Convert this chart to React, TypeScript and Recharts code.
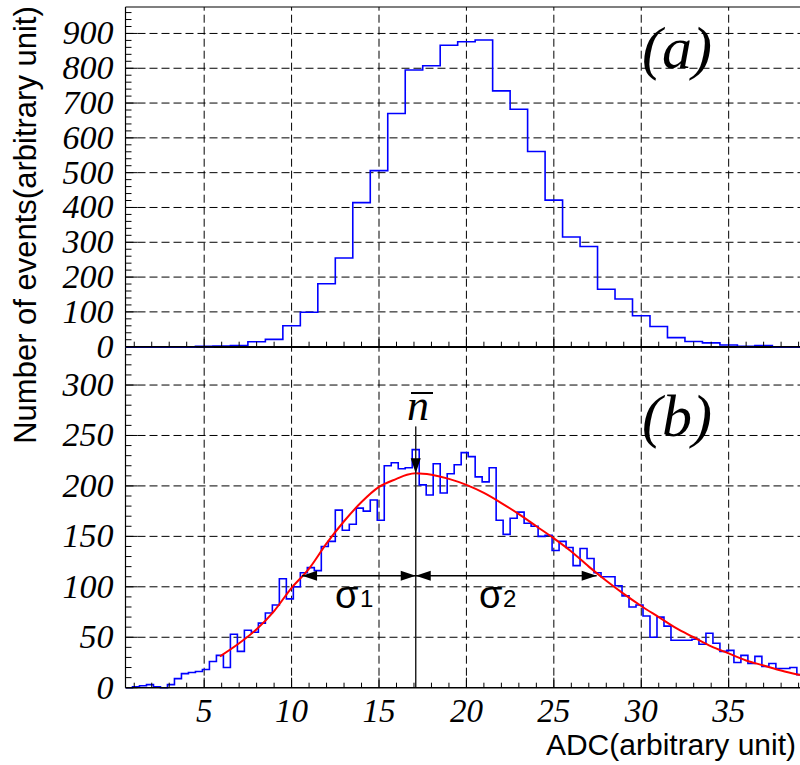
import { ComposedChart, Line, XAxis, YAxis, ReferenceLine } from 'recharts';

const X_MIN = 0.5;
const X_MAX = 39.08;

// panel (a): 1-unit bins, first bin starts at 0.5
const TOP_LOW_EDGE = 0.5;
const TOP_BIN_WIDTH = 1;
const topCounts = [
  0, 0, 0, 0, 1, 2, 3, 14, 21, 60, 99, 181, 255, 414, 506, 670, 795, 807, 866, 876, 881, 735, 682,
  561, 421, 315, 288, 165, 137, 89, 58, 26, 15, 11, 5, 1, 3, 0, 0,
];

// panel (b): 0.4-unit bins, first bin starts at 0.5
const BOTTOM_LOW_EDGE = 0.5;
const BOTTOM_BIN_WIDTH = 0.4;
const bottomCounts = [
  0, 1, 2, 3, 1, 0, 3, 9, 14, 15, 16, 18, 26, 32, 20, 53, 36, 57, 55, 64, 74, 82, 108, 88, 100, 114,
  119, 116, 140, 145, 176, 156, 162, 178, 175, 186, 166, 220, 223, 217, 218, 236, 201, 191, 222, 193,
  212, 221, 233, 229, 209, 204, 218, 166, 152, 168, 174, 163, 160, 150, 151, 136, 145, 139, 121, 138,
  128, 114, 110, 110, 101, 91, 80, 82, 71, 50, 70, 61, 47, 47, 47, 48, 43, 54, 44, 36, 37, 25, 32, 24,
  31, 21, 24, 19, 19, 20, 13,
];

// fitted curve
const fitX = [5.9, 7, 8, 9, 10, 11, 12, 13, 14, 15, 16, 16.6, 17.1, 18, 19, 20, 21, 22, 23, 24, 25, 26, 27, 28, 29, 30, 31, 32, 33, 34, 35, 36, 37, 38, 39.08];
const fitY = [31, 44, 58, 76, 99, 118, 143, 165, 184, 199, 207, 211, 212.5, 211, 207, 201, 193, 183, 172, 160, 148, 135, 120, 106, 93, 81, 70, 59, 50, 41, 34, 27, 22, 17, 12.5];

const MEAN = 17.1;
const MEAN_ARROW_TOP = 259;
const PEAK = 212.5;
const SIGMA_LEFT = 10.6;
const SIGMA_RIGHT = 27.45;
const SIGMA_LEVEL = 111;

const xTicks = Array.from({ length: 39 }, (_, i) => i + 1);
const xGrid = [5, 10, 15, 20, 25, 30, 35];
const topYTicks = Array.from({ length: 49 }, (_, i) => i * 20);
const topYGrid = [100, 200, 300, 400, 500, 600, 700, 800, 900];
const bottomYTicks = Array.from({ length: 34 }, (_, i) => i * 10);
const bottomYGrid = [50, 100, 150, 200, 250, 300];

const TOP_Y_MAX = 976;
const BOTTOM_Y_MAX = 337.4;

const SERIF = '"Liberation Serif", "Times New Roman", serif';
const SANS = '"Liberation Sans", Arial, sans-serif';
const GRID = { stroke: '#000', strokeDasharray: '8 4', strokeWidth: 1 };

function stepData(low: number, width: number, counts: number[]) {
  const pts = counts.map((c, i) => ({ x: low + i * width, y: c }));
  pts.push({ x: low + counts.length * width, y: counts[counts.length - 1] });
  return pts;
}

const topData = stepData(TOP_LOW_EDGE, TOP_BIN_WIDTH, topCounts);
const bottomData = stepData(BOTTOM_LOW_EDGE, BOTTOM_BIN_WIDTH, bottomCounts);
const fitData = fitX.map((x, i) => ({ x, y: fitY[i] }));

function XTick(props: any) {
  const { x, y, payload, showLabel } = props;
  const v = payload.value;
  const major = v % 5 === 0;
  return (
    <g>
      <line x1={x} x2={x} y1={y} y2={y - (major ? 10 : 5)} stroke="#000" strokeWidth={1} />
      {showLabel && major && (
        <text x={x} y={y + 34} textAnchor="middle" fontFamily={SERIF} fontStyle="italic" fontSize={33}>
          {v}
        </text>
      )}
    </g>
  );
}

function YTick(props: any) {
  const { x, y, payload, step } = props;
  const v = payload.value;
  const major = v % step === 0;
  return (
    <g>
      <line x1={x} x2={x + (major ? 12 : 6)} y1={y} y2={y} stroke="#000" strokeWidth={1} />
      {major && (
        <text x={x - 12} y={y + 11} textAnchor="end" fontFamily={SERIF} fontStyle="italic" fontSize={34}>
          {v}
        </text>
      )}
    </g>
  );
}

function Head({ tipX, tipY, dx, dy }: { tipX: number; tipY: number; dx: number; dy: number }) {
  // dx,dy: unit vector pointing from base to tip
  const len = 15;
  const half = 5;
  const bx = tipX - dx * len;
  const by = tipY - dy * len;
  const px = -dy * half;
  const py = dx * half;
  return <polygon points={`${tipX},${tipY} ${bx + px},${by + py} ${bx - px},${by - py}`} fill="#000" />;
}

function DoubleArrow(props: any) {
  const { x1, y1, x2, y2 } = props;
  return (
    <g>
      <line x1={x1} y1={y1} x2={x2} y2={y2} stroke="#000" strokeWidth={1.5} />
      <Head tipX={x1} tipY={y1} dx={-1} dy={0} />
      <Head tipX={x2} tipY={y2} dx={1} dy={0} />
    </g>
  );
}

function DownArrow(props: any) {
  const { x1, y1, x2, y2 } = props;
  return (
    <g>
      <line x1={x1} y1={y1} x2={x2} y2={y2} stroke="#222" strokeWidth={1.5} />
      <Head tipX={x2} tipY={y2} dx={0} dy={1} />
    </g>
  );
}

function TopPanel() {
  return (
    <ComposedChart width={800} height={376.7} margin={{ top: 7, right: 0, bottom: 0, left: 0.5 }}>
      <XAxis
        type="number"
        dataKey="x"
        domain={[X_MIN, X_MAX]}
        allowDataOverflow
        ticks={xTicks}
        interval={0}
        height={30}
        tickSize={0}
        tickMargin={0}
        tickLine={false}
        axisLine={{ stroke: '#000', strokeWidth: 1.2 }}
        tick={(p: any) => <XTick {...p} showLabel={false} />}
      />
      <YAxis
        type="number"
        dataKey="y"
        domain={[0, TOP_Y_MAX]}
        ticks={topYTicks}
        interval={0}
        width={125}
        tickSize={0}
        tickMargin={0}
        tickLine={false}
        axisLine={{ stroke: '#000', strokeWidth: 1.2 }}
        tick={(p: any) => <YTick {...p} step={100} />}
      />
      {xGrid.map((v) => (
        <ReferenceLine key={`x${v}`} x={v} {...GRID} />
      ))}
      {topYGrid.map((v) => (
        <ReferenceLine key={`y${v}`} y={v} {...GRID} />
      ))}
      <ReferenceLine y={TOP_Y_MAX} stroke="#000" strokeWidth={1.2} />
      <Line
        data={topData}
        dataKey="y"
        type="stepAfter"
        stroke="#0000ff"
        strokeWidth={1.6}
        dot={false}
        isAnimationActive={false}
      />
    </ComposedChart>
  );
}

function BottomPanel() {
  return (
    <ComposedChart width={800} height={765} margin={{ top: 347.3, right: 0, bottom: 0, left: 0.5 }}>
      <XAxis
        type="number"
        dataKey="x"
        domain={[X_MIN, X_MAX]}
        allowDataOverflow
        ticks={xTicks}
        interval={0}
        height={77.3}
        tickSize={0}
        tickMargin={0}
        tickLine={false}
        axisLine={{ stroke: '#000', strokeWidth: 1.5 }}
        tick={(p: any) => <XTick {...p} showLabel />}
      />
      <YAxis
        type="number"
        dataKey="y"
        domain={[0, BOTTOM_Y_MAX]}
        ticks={bottomYTicks}
        interval={0}
        width={125}
        tickSize={0}
        tickMargin={0}
        tickLine={false}
        axisLine={{ stroke: '#000', strokeWidth: 1.2 }}
        tick={(p: any) => <YTick {...p} step={50} />}
      />
      {xGrid.map((v) => (
        <ReferenceLine key={`x${v}`} x={v} {...GRID} />
      ))}
      {bottomYGrid.map((v) => (
        <ReferenceLine key={`y${v}`} y={v} {...GRID} />
      ))}
      <ReferenceLine y={BOTTOM_Y_MAX} stroke="#000" strokeWidth={1.2} />
      <Line
        data={bottomData}
        dataKey="y"
        type="stepAfter"
        stroke="#0000ff"
        strokeWidth={1.6}
        dot={false}
        isAnimationActive={false}
      />
      <Line
        data={fitData}
        dataKey="y"
        type="monotone"
        stroke="#ff0000"
        strokeWidth={2}
        dot={false}
        isAnimationActive={false}
      />
      <ReferenceLine
        segment={[
          { x: MEAN, y: MEAN_ARROW_TOP },
          { x: MEAN, y: PEAK },
        ]}
        shape={(p: any) => <DownArrow {...p} />}
      />
      <ReferenceLine
        segment={[
          { x: MEAN, y: PEAK },
          { x: MEAN, y: 0 },
        ]}
        stroke="#222"
        strokeWidth={1.5}
      />
      <ReferenceLine
        segment={[
          { x: SIGMA_LEFT, y: SIGMA_LEVEL },
          { x: MEAN, y: SIGMA_LEVEL },
        ]}
        shape={(p: any) => <DoubleArrow {...p} />}
      />
      <ReferenceLine
        segment={[
          { x: MEAN, y: SIGMA_LEVEL },
          { x: SIGMA_RIGHT, y: SIGMA_LEVEL },
        ]}
        shape={(p: any) => <DoubleArrow {...p} />}
      />
    </ComposedChart>
  );
}

export default function App() {
  return (
    <div style={{ position: 'absolute', left: 0, top: 0, width: 800, height: 765, background: '#fff' }}>
      <div style={{ position: 'absolute', left: 0, top: 0 }}>
        <BottomPanel />
      </div>
      <div style={{ position: 'absolute', left: 0, top: 0 }}>
        <TopPanel />
      </div>
      <svg
        width={800}
        height={765}
        style={{ position: 'absolute', left: 0, top: 0, pointerEvents: 'none' }}
      >
        <text
          transform="translate(36, 225) rotate(-90)"
          textAnchor="middle"
          fontFamily={SANS}
          fontSize={31}
        >
          Number of events(arbitrary unit)
        </text>
        <text x={796} y={755} textAnchor="end" fontFamily={SANS} fontSize={30}>
          ADC(arbitrary unit)
        </text>
        <text x={642} y={68} fontFamily={SERIF} fontStyle="italic" fontSize={60}>
          (a)
        </text>
        <text x={642} y={436} fontFamily={SERIF} fontStyle="italic" fontSize={60}>
          (b)
        </text>
        <text x={407} y={420} fontFamily={SERIF} fontStyle="italic" fontSize={44}>
          n
        </text>
        <line x1={411} x2={433} y1={393} y2={393} stroke="#000" strokeWidth={2} />
        <text x={335} y={608} fontFamily={SANS} fontSize={38}>
          σ
        </text>
        <text x={360} y={607} fontFamily={SANS} fontSize={24}>
          1
        </text>
        <text x={479} y={608} fontFamily={SANS} fontSize={38}>
          σ
        </text>
        <text x={503} y={607} fontFamily={SANS} fontSize={24}>
          2
        </text>
      </svg>
    </div>
  );
}
